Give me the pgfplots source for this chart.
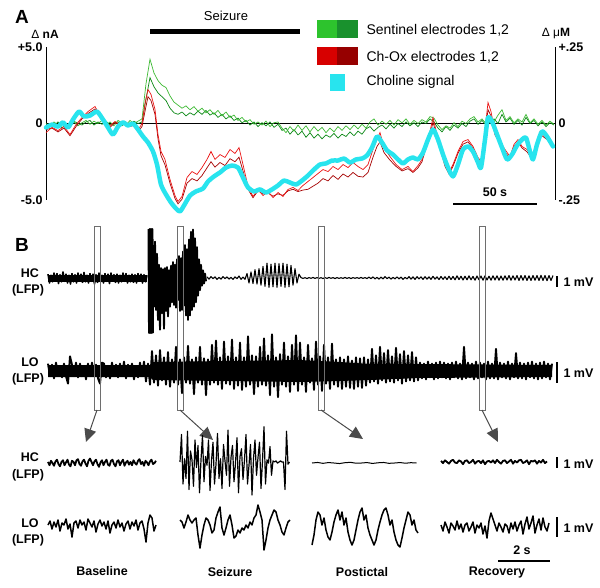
\documentclass[border=0pt]{standalone}
\usepackage{pgfplots}
\pgfplotsset{compat=1.18}
\usepackage{fontspec}
\setmainfont{Liberation Sans}
\usetikzlibrary{arrows.meta}
\definecolor{cyanline}{RGB}{40,228,238}
\definecolor{grnA}{RGB}{60,185,50}
\definecolor{grnB}{RGB}{10,135,20}
\definecolor{redA}{RGB}{235,20,20}
\definecolor{redB}{RGB}{165,0,0}
\definecolor{swG1}{RGB}{45,195,45}
\definecolor{swG2}{RGB}{25,145,45}
\definecolor{swR1}{RGB}{215,0,0}
\definecolor{swR2}{RGB}{150,0,0}
\definecolor{winc}{RGB}{110,110,110}
\definecolor{arrc}{RGB}{75,75,75}
\newcommand{\lbl}{\bfseries\fontsize{12.5}{14}\selectfont}
\newcommand{\txt}{\fontsize{13}{15}\selectfont}
\newcommand{\legtxt}{\fontsize{14}{16}\selectfont}
\pgfplotsset{lfp/.style={black, line width=1.9pt, line join=round, mark=none},
  small/.style={black, line width=1.5pt, line join=round, mark=none}}
\begin{document}
\begin{tikzpicture}
\useasboundingbox (0,0) rectangle (600pt,587pt);

% ---------- panel B and all annotations, in picture pixels ----------
\begin{axis}[at={(0pt,0pt)}, anchor=south west, scale only axis,
  width=600pt, height=587pt, xmin=0, xmax=600, ymin=0, ymax=587,
  y dir=reverse, axis lines=none, clip=false]

% dense cores of the two long records (envelopes, px)
\addplot[fill=black, draw=none] coordinates {(48,274.5)(147,274.5)(147,281.5)(48,281.5)};
\addplot[fill=black, draw=none] coordinates {
(48,365)(150,365)(153,362)(300,360)(340,362)(370,364)(420,364)(552,365)
(552,377)(420,378)(370,380)(340,381)(300,382)(153,380)(150,377)(48,377)};

% HC, baseline (mV, 11 px per mV)
\addplot[lfp, line width=1.6pt] table[header=false, row sep=\\, x expr=48+1.5*\coordindex, y expr=278-11*\thisrowno{0}] {
0.35\\-0.45\\0.25\\-0.35\\0.45\\-0.25\\0.4\\-0.5\\0.3\\-0.35\\
0.55\\-0.3\\0.35\\-0.45\\0.25\\-0.55\\0.4\\-0.35\\0.3\\-0.45\\
0.45\\-0.25\\0.35\\-0.4\\0.5\\-0.35\\0.25\\-0.45\\0.4\\-0.3\\
0.35\\-0.55\\0.3\\-0.4\\0.45\\-0.35\\0.25\\-0.45\\0.4\\-0.3\\
0.35\\-0.5\\0.45\\-0.25\\0.3\\-0.4\\0.35\\-0.45\\0.25\\-0.35\\
0.45\\-0.3\\0.4\\-0.45\\0.25\\-0.35\\0.35\\-0.4\\0.3\\-0.45\\
0.4\\-0.25\\0.35\\-0.45\\0.3\\-0.35\\0.25\\
};
% HC, stimulus artefact
\addplot[lfp] table[header=false, row sep=\\, x expr=148.5+0.5*\coordindex, y expr=278-11*\thisrowno{0}] {
4.45\\-5\\4.45\\-5\\4.45\\-5\\4.45\\-5\\4.45\\-5\\
};
% HC, seizure burst
\addplot[lfp] table[header=false, row sep=\\, x expr=153+\coordindex, y expr=278-11*\thisrowno{0}] {
3.0\\-2.6\\3.3\\-2.9\\2.2\\-3.8\\1.2\\-4.7\\0.9\\-3.2\\
0.8\\-4.6\\0.9\\-3.0\\1.0\\-3.5\\0.7\\-2.6\\1.1\\-2.2\\
1.45\\-2.45\\1.2\\-2.7\\1.7\\-2.0\\2.0\\-3.0\\1.8\\-2.9\\
2.4\\-2.5\\3.0\\-3.4\\2.6\\-3.8\\3.5\\-3.4\\4.2\\-2.9\\
4.4\\-2.6\\3.6\\-2.2\\2.8\\-1.6\\1.7\\-1.1\\1.2\\-0.7\\
0.7\\-0.5\\0.4\\-0.3\\
};
% HC, after the seizure
\addplot[lfp, line width=1.1pt] table[header=false, row sep=\\, x expr=207+2*\coordindex, y expr=278-11*\thisrowno{0}] {
0.1\\-0.1\\0.12\\-0.06\\0.1\\-0.12\\0.06\\-0.1\\0.12\\-0.06\\
0.1\\-0.1\\0.06\\-0.12\\0.1\\-0.06\\0.18\\-0.12\\0.08\\-0.12\\
0.4\\-0.45\\0.55\\-0.5\\0.75\\-0.55\\0.85\\-0.65\\1.05\\-0.75\\
1.35\\-0.85\\1.25\\-0.8\\1.35\\-0.85\\1.3\\-0.75\\1.35\\-0.85\\
1.25\\-0.8\\1.15\\-0.65\\0.85\\-0.45\\0.35\\
0.04\\-0.04\\0.03\\-0.05\\0.04\\-0.03\\0.05\\-0.04\\0.04\\-0.04\\
0.03\\-0.05\\0.04\\-0.04\\0.05\\-0.03\\0.04\\-0.05\\0.04\\-0.04\\
0.03\\-0.04\\0.05\\-0.04\\0.04\\-0.05\\0.04\\-0.03\\0.04\\-0.04\\
0.05\\-0.04\\0.04\\-0.05\\
0.08\\-0.06\\0.1\\-0.08\\0.06\\-0.1\\0.08\\-0.08\\0.12\\-0.06\\
0.08\\-0.1\\0.06\\-0.08\\0.1\\-0.08\\0.08\\-0.12\\0.06\\-0.08\\
0.12\\-0.1\\0.1\\-0.12\\0.12\\-0.08\\0.1\\-0.12\\0.12\\-0.1\\
0.1\\-0.12\\0.15\\-0.1\\0.1\\-0.14\\0.14\\-0.12\\0.12\\-0.14\\
0.16\\-0.14\\0.14\\-0.16\\0.2\\-0.14\\0.16\\-0.18\\0.16\\-0.16\\
0.2\\-0.16\\0.14\\-0.2\\0.18\\-0.16\\0.18\\-0.2\\0.2\\-0.18\\
0.16\\-0.2\\0.2\\-0.18\\0.2\\-0.2\\0.18\\-0.2\\0.2\\-0.18\\
0.22\\-0.2\\0.2\\-0.18\\0.22\\-0.22\\0.22\\-0.2\\0.22\\-0.22\\
0.2\\-0.22\\0.22\\-0.2\\0.22\\-0.22\\0.24\\-0.22\\0.22\\-0.24\\
0.22\\-0.22\\0.22\\
};
% LO, whole record (mV, 21 px per mV)
\addplot[lfp] table[header=false, row sep=\\, x expr=48+2*\coordindex, y expr=371-21*\thisrowno{0}] {
0.35\\-0.25\\0.3\\-0.35\\0.4\\-0.2\\0.25\\-0.3\\0.35\\-0.25\\
-0.6\\0.7\\0.3\\-0.25\\0.4\\-0.3\\0.35\\-0.25\\0.25\\-0.4\\
0.35\\-0.25\\0.4\\-0.25\\0.3\\-0.35\\-0.6\\0.4\\0.35\\-0.3\\
0.25\\-0.35\\0.4\\-0.25\\0.3\\-0.3\\0.35\\-0.25\\0.45\\-0.35\\
0.3\\-0.25\\0.35\\-0.4\\0.25\\-0.3\\0.4\\-0.25\\0.45\\-0.5\\
0.35\\
-0.65\\0.95\\-0.55\\0.75\\-0.7\\1.0\\-0.45\\0.65\\-0.65\\0.9\\-0.75\\0.55\\-0.55\\
1.15\\-0.65\\0.55\\-1.05\\0.65\\-0.55\\1.2\\-0.6\\0.55\\-1.1\\
0.65\\-0.55\\1.15\\-0.65\\0.6\\-1.15\\0.55\\-0.65\\1.25\\-0.55\\
1.45\\-0.65\\0.65\\-0.85\\1.4\\-0.6\\0.7\\-0.65\\1.5\\-0.85\\
0.65\\-0.7\\1.35\\-0.9\\0.65\\
-0.75\\1.65\\-0.65\\0.75\\-1.1\\0.7\\-0.75\\1.15\\-0.65\\1.55\\
-0.7\\0.75\\-1.15\\1.75\\-0.75\\0.65\\-1.25\\0.8\\-0.65\\1.35\\
-0.75\\0.7\\-1.0\\1.25\\-0.65\\1.7\\-0.95\\
1.35\\-0.65\\0.65\\-1.0\\1.25\\-0.55\\0.6\\-0.9\\1.4\\-0.65\\
0.7\\-0.95\\1.25\\-0.6\\0.65\\-0.85\\1.3\\-0.65\\0.55\\-0.75\\
0.65\\-0.85\\0.55\\-0.75\\0.7\\-0.8\\0.5\\-0.85\\0.65\\-0.75\\
0.6\\-0.8\\0.65\\-0.7\\0.55\\
-0.55\\1.05\\-0.5\\0.75\\-0.6\\1.15\\-0.45\\0.85\\-0.55\\1.0\\
-0.5\\0.7\\-0.55\\1.1\\-0.45\\0.8\\-0.6\\0.95\\-0.5\\0.75\\
-0.45\\0.9\\-0.5\\0.65\\-0.45\\
0.4\\-0.35\\0.35\\-0.4\\0.45\\-0.3\\0.35\\-0.4\\0.4\\-0.35\\
0.45\\-0.3\\0.4\\-0.35\\0.35\\-0.4\\0.4\\-0.3\\0.45\\-0.35\\
0.35\\-0.4\\1.15\\-0.35\\0.4\\-0.3\\0.35\\-0.4\\0.45\\-0.35\\
0.4\\-0.3\\0.35\\-0.4\\0.45\\-0.35\\0.35\\-0.35\\1.05\\-0.4\\
0.4\\-0.3\\0.35\\-0.35\\0.45\\-0.4\\0.35\\-0.3\\0.85\\-0.35\\
0.4\\-0.35\\0.35\\-0.4\\0.4\\-0.3\\0.45\\-0.35\\0.35\\-0.4\\
0.4\\-0.35\\0.45\\-0.3\\0.35\\-0.4\\0.35\\
};

% windows and arrows
\foreach \wx in {94,177,318,479}{
  \edef\tmp{\noexpand\draw[winc, line width=0.9pt] (axis cs:\wx,226) rectangle (axis cs:\wx+6,410);}\tmp
}
\draw[arrc, line width=1pt, -{Triangle[length=13pt,width=12pt]}] (axis cs:97,410) -- (axis cs:86,442);
\draw[arrc, line width=1pt, -{Triangle[length=13pt,width=12pt]}] (axis cs:180,410) -- (axis cs:213,440);
\draw[arrc, line width=1pt, -{Triangle[length=13pt,width=12pt]}] (axis cs:321,410) -- (axis cs:363,439);
\draw[arrc, line width=1pt, -{Triangle[length=13pt,width=12pt]}] (axis cs:482,410) -- (axis cs:498,442);

% expanded traces: HC
\addplot[small, line width=1.8pt] table[header=false, row sep=\\, x expr=48+1.5*\coordindex, y expr=463-11*\thisrowno{0}] {
0.1\\-0.2\\0.2\\0.0\\-0.25\\0.15\\0.3\\-0.1\\-0.3\\0.1\\
0.25\\-0.2\\0.05\\0.3\\-0.15\\-0.3\\0.2\\0.1\\-0.2\\0.25\\
0.35\\-0.1\\-0.25\\0.15\\0.3\\-0.05\\-0.3\\0.2\\0.4\\0.1\\
-0.2\\0.15\\0.3\\-0.1\\-0.35\\0.05\\0.25\\-0.2\\0.1\\0.3\\
-0.15\\-0.25\\0.2\\0.3\\-0.1\\-0.3\\0.15\\0.25\\-0.2\\0.1\\
0.3\\-0.25\\0.05\\0.2\\-0.15\\0.1\\-0.2\\0.25\\0.0\\-0.15\\
0.2\\0.35\\-0.1\\0.1\\-0.25\\0.2\\0.05\\-0.2\\0.15\\0.3\\
-0.1\\0.0\\0.2\\
};
\addplot[small, line width=1.2pt] table[header=false, row sep=\\, x expr=180+1.5*\coordindex, y expr=462-11*\thisrowno{0}] {
0\\2.5\\-2.0\\0.3\\-1.5\\2.8\\-2.5\\1.0\\0.2\\-2.2\\
2.0\\-0.5\\1.5\\-2.8\\0.2\\2.4\\-1.8\\0.5\\-0.3\\2.0\\
-2.6\\0.1\\1.8\\-2.0\\-0.2\\2.6\\-1.5\\0.3\\-2.4\\1.6\\
0.1\\-1.2\\2.9\\-2.2\\0.4\\1.5\\-1.8\\-0.1\\2.2\\-2.8\\
0.5\\1.2\\-1.6\\0.2\\2.5\\-2.0\\-0.3\\1.6\\-3.0\\0.3\\
2.0\\-1.2\\0.4\\1.8\\-2.4\\0.1\\3.2\\-2.0\\0.2\\-0.1\\
1.4\\-1.2\\0.1\\0.0\\0.1\\-0.1\\0.0\\0.1\\0.0\\0.0\\
-2.5\\2.8\\-0.2\\0.0\\
};
\addplot[small, line width=1pt] table[header=false, row sep=\\, x expr=312+5.5*\coordindex, y expr=463-11*\thisrowno{0}] {
0\\0.05\\-0.03\\0.04\\0\\-0.05\\0.03\\0.06\\-0.02\\0\\
0.04\\-0.04\\0.02\\0.05\\-0.03\\0\\0.04\\-0.02\\0.03\\0\\
};
\addplot[small, line width=1.8pt] table[header=false, row sep=\\, x expr=441+2*\coordindex, y expr=462-11*\thisrowno{0}] {
0.1\\-0.1\\0.15\\0.0\\-0.15\\0.1\\0.2\\-0.05\\-0.1\\0.15\\
0.05\\-0.2\\0.1\\0.15\\-0.1\\0.0\\0.2\\-0.15\\0.05\\0.1\\
-0.1\\0.15\\-0.2\\0.05\\0.1\\-0.05\\0.15\\-0.1\\0.2\\0.0\\
-0.15\\0.1\\0.15\\-0.1\\0.05\\0.2\\-0.15\\0.1\\-0.05\\0.15\\
0.2\\-0.1\\0.0\\0.15\\-0.2\\0.1\\0.05\\0.15\\-0.15\\0.1\\
-0.05\\0.2\\-0.1\\0.05\\
};
% expanded traces: LO (20 px per mV)
\addplot[small] table[header=false, row sep=\\, x expr=48+2*\coordindex, y expr=527-20*\thisrowno{0}] {
0.1\\0.3\\-0.1\\0.25\\0.0\\0.35\\-0.2\\0.2\\0.1\\0.4\\
-0.1\\0.15\\-0.5\\0.2\\0.3\\-0.05\\0.35\\0.1\\0.25\\-0.15\\
0.4\\0.2\\0.0\\0.3\\-0.25\\0.15\\0.35\\0.05\\0.25\\-0.1\\
0.3\\-0.3\\0.1\\0.25\\-0.05\\0.35\\0.0\\0.2\\-0.2\\0.15\\
0.3\\-0.1\\0.25\\0.05\\0.35\\-0.15\\0.2\\0.3\\-0.1\\-0.75\\
0.2\\0.6\\0.45\\-0.2\\0.1\\
};
\addplot[small] table[header=false, row sep=\\, x expr=180+2*\coordindex, y expr=527-20*\thisrowno{0}] {
0.35\\0.25\\-0.05\\0.25\\0.6\\0.35\\0.2\\0.35\\0.45\\-0.4\\
-1.05\\-0.4\\0.1\\0.45\\0.35\\0.1\\-0.3\\-0.15\\0.45\\0.75\\
1.0\\-0.05\\-0.4\\-0.05\\0.35\\0.6\\0.1\\-0.55\\-0.45\\-0.15\\
-0.3\\-0.05\\-0.15\\0.1\\-0.05\\0.25\\0.1\\0.45\\0.6\\1.1\\
0.75\\0.35\\-1.15\\-0.65\\-0.05\\0.35\\0.6\\0.85\\0.75\\0.35\\
0.1\\-0.25\\-0.4\\-0.05\\0.25\\0.35\\
};
\addplot[small] table[header=false, row sep=\\, x expr=312+2*\coordindex, y expr=527-20*\thisrowno{0}] {
-0.9\\-0.4\\0.35\\0.75\\0.6\\0.1\\0.45\\-0.15\\-0.5\\-0.65\\
-0.25\\0.25\\0.6\\0.85\\0.35\\0.75\\0.1\\0.45\\-0.25\\-0.65\\
-0.9\\-0.65\\-0.15\\0.35\\0.75\\0.95\\0.35\\0.6\\-0.05\\-0.4\\
-0.65\\-0.9\\-0.65\\-0.15\\0.25\\0.6\\0.85\\0.95\\0.6\\0.1\\
0.35\\-0.25\\-0.65\\-0.9\\-1.0\\-0.55\\-0.05\\0.35\\0.75\\0.6\\
0.1\\0.35\\-0.15\\-0.3\\
};
\addplot[small] table[header=false, row sep=\\, x expr=441+2*\coordindex, y expr=527-20*\thisrowno{0}] {
0.1\\-0.2\\0.25\\0.0\\-0.3\\0.2\\0.05\\-0.15\\0.3\\-0.1\\
0.15\\-0.25\\0.1\\0.2\\-0.2\\0.0\\0.25\\-0.3\\0.1\\-0.05\\
0.2\\-0.35\\0.05\\-0.55\\0.3\\0.7\\0.4\\0.1\\-0.2\\0.2\\
0.0\\-0.25\\0.15\\0.05\\-0.3\\0.2\\-0.1\\0.25\\-0.2\\0.1\\
0.3\\-0.35\\0.15\\0.5\\-0.1\\0.2\\0.55\\-0.3\\0.1\\0.4\\
-0.15\\0.45\\0.0\\-0.2\\0.2\\
};

% scale bars
\draw[line width=1.3pt] (axis cs:557,276) -- (axis cs:557,287);
\draw[line width=1.3pt] (axis cs:557,362) -- (axis cs:557,383);
\draw[line width=1.3pt] (axis cs:557,457) -- (axis cs:557,468);
\draw[line width=1.3pt] (axis cs:557,517) -- (axis cs:557,537);
\node[anchor=west, font=\lbl] at (axis cs:560,282) {1 mV};
\node[anchor=west, font=\lbl] at (axis cs:560,373) {1 mV};
\node[anchor=west, font=\lbl] at (axis cs:560,464) {1 mV};
\node[anchor=west, font=\lbl] at (axis cs:560,528) {1 mV};
\draw[line width=1.2pt] (axis cs:498,561) -- (axis cs:550,561);
\node[font=\lbl] at (axis cs:522,550) {2 s};
\draw[line width=1.2pt] (axis cs:453,204) -- (axis cs:537,204);
\node[font=\lbl] at (axis cs:495,192) {50 s};

% labels of panel B
\node[font=\bfseries\fontsize{19}{20}\selectfont] at (axis cs:22,245) {B};
\node[font=\lbl] at (axis cs:30,273) {HC};
\node[font=\lbl] at (axis cs:28,290) {(LFP)};
\node[font=\lbl] at (axis cs:30,362) {LO};
\node[font=\lbl] at (axis cs:28,379) {(LFP)};
\node[font=\lbl] at (axis cs:30,457) {HC};
\node[font=\lbl] at (axis cs:28,475) {(LFP)};
\node[font=\lbl] at (axis cs:30,523) {LO};
\node[font=\lbl] at (axis cs:28,540) {(LFP)};
\node[font=\lbl] at (axis cs:102,571) {Baseline};
\node[font=\lbl] at (axis cs:230,572) {Seizure};
\node[font=\lbl] at (axis cs:362,572) {Postictal};
\node[font=\lbl] at (axis cs:497,572) {Recovery};

% panel A annotations
\node[font=\bfseries\fontsize{19}{20}\selectfont] at (axis cs:22,17) {A};
\node[font=\txt] at (axis cs:226,16) {Seizure};
\draw[line width=5pt] (axis cs:150,31) -- (axis cs:300,31);
\node[font=\fontsize{12}{13}\selectfont] at (axis cs:45,34) {Δ \textbf{nA}};
\node[font=\fontsize{12}{13}\selectfont] at (axis cs:556,34) {Δ μ\textbf{M}};
\fill[swG1] (axis cs:317,20) rectangle (axis cs:338,38);
\fill[swG2] (axis cs:337,20) rectangle (axis cs:358,38);
\fill[swR1] (axis cs:317,47) rectangle (axis cs:338,65);
\fill[swR2] (axis cs:337,47) rectangle (axis cs:358,65);
\fill[cyanline] (axis cs:330,74) rectangle (axis cs:345,91);
\node[anchor=west, font=\legtxt] at (axis cs:363,30) {Sentinel electrodes 1,2};
\node[anchor=west, font=\legtxt] at (axis cs:363,57) {Ch-Ox electrodes 1,2};
\node[anchor=west, font=\legtxt] at (axis cs:363,82) {Choline signal};
\end{axis}

% ---------- panel A: right axis (choline, uM) ----------
\begin{axis}[at={(46pt,387pt)}, anchor=south west, scale only axis,
  width=509pt, height=153pt, xmin=0, xmax=305.4, ymin=-0.25, ymax=0.25,
  axis x line=none, axis y line*=right, y axis line style={-, line width=0.6pt},
  ytick={-0.25,0,0.25}, yticklabels={-.25,0,+.25}, major tick length=0pt,
  yticklabel style={font=\lbl}]
\addplot[draw=none] coordinates {(0,0)};
\end{axis}

% ---------- panel A: left axis (nA) and the traces ----------
\begin{axis}[at={(46pt,387pt)}, anchor=south west, scale only axis,
  width=509pt, height=153pt, xmin=0, xmax=305.4, ymin=-5, ymax=5, clip=false,
  axis x line=none, axis y line*=left, y axis line style={-, line width=0.6pt},
  ytick={-5,0,5}, yticklabels={-5.0,0,+5.0}, major tick length=0pt,
  yticklabel style={font=\lbl}]
\draw[black, line width=0.6pt] (axis cs:0,0) -- (axis cs:305.4,0);
% sentinel electrodes (t = 2.4 s steps)
\addplot[grnB, line width=0.7pt, mark=none] table[header=false, row sep=\\, x expr=2.4*\coordindex, y index=0] {
-0.3\\0.0\\-0.15\\0.1\\-0.3\\0.0\\-0.2\\0.15\\0.0\\-0.1\\
0.1\\0.2\\-0.1\\0.1\\-0.05\\0.15\\-0.1\\0.05\\0.1\\-0.15\\
0.05\\-0.1\\0.15\\0.0\\0.1\\1.6\\3.0\\2.4\\2.0\\1.75\\
1.5\\1.0\\0.7\\0.6\\0.75\\0.5\\0.7\\0.55\\0.8\\0.6\\
0.85\\0.55\\0.7\\0.4\\0.6\\0.3\\0.5\\0.2\\0.35\\0.05\\
0.2\\-0.1\\0.1\\-0.2\\0.05\\-0.15\\0.1\\-0.25\\-0.05\\-0.45\\
-0.3\\-0.7\\-0.4\\-0.75\\-0.5\\-0.9\\-0.6\\-0.95\\-0.7\\-1.0\\
-0.75\\-0.9\\-0.65\\-0.95\\-0.7\\-0.85\\-0.55\\-0.8\\-0.5\\-0.7\\
-0.35\\-0.2\\-0.5\\-0.25\\-0.1\\-0.35\\-0.05\\-0.3\\0.0\\-0.2\\
0.1\\-0.15\\0.05\\-0.2\\0.1\\0.0\\0.3\\0.1\\-0.3\\-0.55\\
-0.2\\-0.45\\-0.1\\-0.3\\0.0\\-0.2\\0.15\\0.3\\-0.05\\0.2\\
-0.1\\0.1\\0.3\\0.0\\0.6\\0.1\\0.35\\-0.05\\0.2\\-0.1\\
0.4\\0.0\\0.2\\-0.15\\0.1\\-0.2\\0.05\\-0.1\\
};
\addplot[grnA, line width=0.7pt, mark=none] table[header=false, row sep=\\, x expr=2.4*\coordindex, y index=0] {
0.0\\-0.2\\0.1\\-0.1\\0.15\\-0.25\\-0.1\\0.1\\-0.15\\0.05\\
0.2\\-0.05\\0.15\\0.0\\0.2\\-0.1\\0.1\\-0.15\\0.2\\0.05\\
-0.1\\0.2\\0.0\\0.15\\0.3\\2.6\\4.2\\3.3\\2.8\\2.5\\
2.35\\1.8\\1.4\\1.2\\1.0\\1.15\\0.9\\1.1\\0.8\\1.0\\
0.7\\0.9\\0.6\\0.85\\0.5\\0.75\\0.4\\0.55\\0.2\\0.4\\
0.1\\0.25\\-0.05\\0.1\\-0.1\\0.15\\-0.2\\0.05\\0.1\\-0.3\\
-0.6\\-0.2\\-0.5\\-0.1\\-0.45\\-0.15\\-0.55\\-0.2\\-0.5\\-0.25\\
-0.6\\-0.3\\-0.55\\-0.2\\-0.45\\-0.15\\-0.4\\-0.1\\-0.35\\-0.05\\
-0.3\\0.1\\0.3\\-0.1\\0.15\\-0.05\\0.2\\-0.1\\0.25\\0.05\\
0.3\\-0.05\\0.2\\0.0\\0.25\\0.1\\0.45\\0.35\\-0.1\\-0.4\\
-0.15\\-0.3\\0.05\\-0.2\\0.15\\0.0\\0.3\\0.45\\0.1\\0.3\\
0.0\\0.25\\0.1\\0.55\\0.9\\0.2\\0.45\\0.05\\0.3\\0.1\\
0.6\\0.05\\0.3\\-0.05\\0.2\\-0.1\\0.15\\-0.05\\
};
% Ch-Ox electrodes
\addplot[redB, line width=0.7pt, mark=none] coordinates {
(0,-0.4)(3.6,-0.3)(7.2,-0.55)(10.8,-0.3)(14.4,-0.8)(18,-0.2)(21.6,0.3)(25.2,0.65)(29.4,0.95)(32.4,0.4)
(35.4,-0.05)(38.4,-0.25)(41.4,0.05)(44.4,-0.15)(47.4,0.05)(50.4,-0.2)(53.4,-0.1)(55.8,-0.45)(57.6,-0.2)(59.4,0.8)
(61.2,1.75)(63,1.5)(65.4,0.6)(67.2,-1.0)(69,-2.1)(71.4,-2.7)(74.4,-3.9)(77.4,-4.9)(79.2,-5.25)(81.6,-4.95)
(84.6,-3.9)(87.6,-3.6)(90.6,-3.75)(93.6,-3.4)(96.6,-2.9)(99,-2.5)(101.4,-2.85)(104.4,-2.55)(107.4,-2.75)(110.4,-2.3)
(113.4,-2.5)(115.8,-2.2)(118.2,-3.1)(121.2,-4.3)(124.2,-4.85)(127.2,-4.4)(130.2,-4.6)(133.2,-4.55)(136.2,-4.75)(139.2,-4.6)
(142.2,-4.7)(145.2,-4.4)(148.2,-4.3)(151.2,-4.45)(154.2,-4.35)(157.2,-4.3)(160.2,-4.1)(163.2,-3.9)(166.2,-3.6)(169.2,-3.75)
(172.2,-3.4)(175.2,-3.65)(178.2,-3.3)(181.2,-3.5)(184.2,-3.2)(187.2,-3.45)(190.2,-3.5)(193.2,-3.2)(196.2,-2.2)(198.6,-1.5)
(200.4,-1.2)(202.8,-1.9)(206.4,-2.4)(210,-2.8)(213.6,-3.1)(217.2,-2.95)(220.2,-3.2)(223.2,-2.9)(225.6,-2.5)(228,-1.6)
(230.4,-0.8)(232.2,0.1)(234.6,-0.9)(237,-1.85)(239.4,-2.8)(241.8,-3.3)(244.2,-2.8)(247.2,-1.95)(250.2,-1.35)(253.2,-1.2)
(256.2,-1.6)(259.2,-2.35)(261.6,-2.65)(263.4,-0.7)(265.2,0.9)(267,0.5)(269.4,-0.75)(272.4,-1.3)(275.4,-1.85)(278.4,-2.3)
(280.8,-1.5)(283.2,-1.2)(285.6,-1.6)(288.6,-1.85)(291.6,-2.3)(294,-1.7)(296.4,-0.7)(299.4,-0.95)(302.4,-1.2)(304.2,-1.6)
};
\addplot[redA, line width=0.7pt, mark=none] coordinates {
(0,-0.59)(3.6,-0.26)(7.2,-0.46)(10.8,-0.2)(14.4,-0.72)(18,-0.07)(21.6,0.39)(25.2,0.78)(29.4,1.11)(32.4,0.52)
(35.4,0.07)(38.4,-0.13)(41.4,0.13)(44.4,-0.07)(47.4,0.13)(50.4,-0.13)(53.4,0)(55.8,-0.33)(57.6,0)(59.4,1.31)
(61.2,2.22)(63,1.9)(65.4,0.92)(67.2,-0.72)(69,-1.83)(71.4,-2.35)(74.4,-3.66)(77.4,-4.71)(79.2,-5.1)(81.6,-4.77)
(84.6,-3.53)(87.6,-3.14)(90.6,-3.33)(93.6,-2.88)(96.6,-2.35)(99,-1.83)(101.4,-2.35)(104.4,-2.03)(107.4,-2.22)(110.4,-1.7)
(113.4,-1.96)(115.8,-1.57)(118.2,-2.68)(121.2,-4.12)(124.2,-4.77)(127.2,-4.31)(130.2,-4.71)(133.2,-4.44)(136.2,-4.84)(139.2,-4.51)
(142.2,-4.77)(145.2,-4.31)(148.2,-4.18)(151.2,-4.38)(154.2,-4.05)(157.2,-3.79)(160.2,-3.53)(163.2,-3.27)(166.2,-3.01)(169.2,-3.14)
(172.2,-2.81)(175.2,-3.01)(178.2,-2.68)(181.2,-2.88)(184.2,-2.55)(187.2,-2.81)(190.2,-3.01)(193.2,-2.68)(196.2,-1.7)(198.6,-1.05)
(200.4,-0.59)(202.8,-1.57)(206.4,-2.16)(210,-2.68)(213.6,-3.01)(217.2,-2.81)(220.2,-3.14)(223.2,-2.75)(225.6,-2.35)(228,-1.37)
(230.4,-0.52)(232.2,0.39)(234.6,-0.72)(237,-1.7)(239.4,-2.68)(241.8,-3.2)(244.2,-2.68)(247.2,-1.83)(250.2,-1.18)(253.2,-1.05)
(256.2,-1.5)(259.2,-2.22)(261.6,-2.55)(263.4,-0.39)(265.2,1.37)(267,0.78)(269.4,-0.59)(272.4,-1.18)(275.4,-1.7)(278.4,-2.16)
(280.8,-1.37)(283.2,-1.05)(285.6,-1.5)(288.6,-1.7)(291.6,-2.16)(294,-1.57)(296.4,-0.52)(299.4,-0.85)(302.4,-1.05)(304.2,-1.5)
};
% choline signal
\addplot[cyanline, line width=4.5pt, mark=none, line join=round, line cap=round, smooth, tension=0.4] coordinates {
(0,-0.26)(3.6,-0.07)(7.2,-0.2)(10.2,0.07)(13.2,-0.26)(16.2,0.26)(19.8,0.78)(22.8,0.46)(26.4,0.52)(30.6,0.78)
(34.2,0.26)(37.2,-0.26)(40.2,-0.72)(43.2,-0.2)(46.2,0.07)(49.2,-0.13)(52.2,0)(55.2,-0.39)(58.2,-0.85)(61.2,-1.24)
(64.2,-1.83)(66.6,-2.68)(69,-3.99)(72,-4.64)(75,-5.16)(78,-5.56)(80.4,-5.75)(82.8,-5.36)(86.4,-4.71)(90,-4.44)
(94.2,-4.25)(97.2,-3.79)(100.8,-3.46)(104.4,-3.2)(108,-2.88)(111.6,-2.75)(115.2,-2.88)(118.2,-3.53)(121.2,-4.18)(124.8,-4.44)
(128.4,-4.31)(132,-4.51)(135.6,-4.31)(139.2,-4.05)(142.8,-3.73)(146.4,-3.86)(150,-3.99)(153.6,-3.73)(157.2,-3.4)(160.8,-3.01)
(164.4,-2.68)(168,-2.61)(171.6,-2.42)(175.2,-2.42)(178.8,-2.29)(182.4,-2.55)(186,-2.35)(189.6,-2.29)(192.6,-2.09)(195.6,-1.57)
(198.6,-0.85)(201.6,-1.24)(204.6,-1.76)(208.2,-2.03)(211.2,-2.35)(214.2,-2.61)(217.2,-2.35)(220.2,-2.22)(223.2,-2.35)(226.2,-1.9)
(229.2,-1.05)(232.2,-0.39)(235.2,-1.05)(238.2,-2.03)(241.2,-2.88)(244.2,-3.46)(247.2,-2.68)(250.2,-1.7)(253.2,-1.5)(256.2,-1.83)
(259.2,-2.55)(261,-2.88)(263.4,-1.05)(265.2,0.39)(267.6,0.13)(270.6,-0.72)(273.6,-1.57)(276.6,-2.35)(279.6,-2.03)(282.6,-1.44)
(285.6,-1.05)(288,-0.92)(290.4,-1.83)(292.2,-2.35)(294.6,-1.37)(297.6,-0.52)(300.6,-0.85)(304.2,-1.5)
};
\end{axis}
\end{tikzpicture}
\end{document}
